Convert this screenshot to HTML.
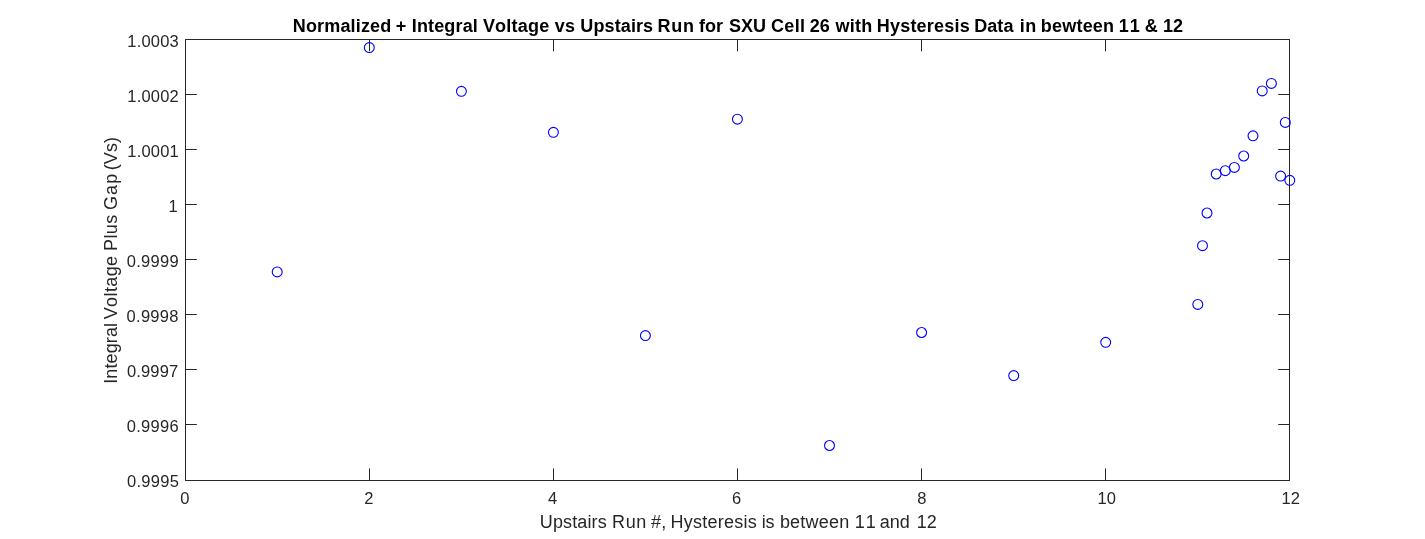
<!DOCTYPE html>
<html lang="en"><head><meta charset="utf-8"><title>Normalized + Integral Voltage vs Upstairs Run</title>
<style>
html,body{margin:0;padding:0;background:#fff;}
body{width:1425px;height:539px;overflow:hidden;}
svg{display:block;will-change:transform;}
text{font-family:"Liberation Sans",Arial,Helvetica,sans-serif;fill:#262626;font-kerning:none;}
.tk{font-size:16.5px;}
.lb{font-size:18px;}
.tt{font-size:18px;font-weight:bold;fill:#000;}
.ax{stroke:#262626;stroke-width:1;fill:none;shape-rendering:crispEdges;}
.tl{stroke:#262626;stroke-width:1;fill:none;}
.mk{stroke:#0000ff;stroke-width:1.1;fill:none;}
</style></head><body>
<svg width="1425" height="539" viewBox="0 0 1425 539">
<rect x="0" y="0" width="1425" height="539" fill="#ffffff"/>
<rect class="ax" x="185.5" y="39.5" width="1104.0" height="441.0"/>
<text class="tk" x="180.28" y="503.9">0</text>
<line class="tl" x1="369.5" y1="480.5" x2="369.5" y2="468.4"/>
<line class="tl" x1="369.5" y1="39.5" x2="369.5" y2="51.3"/>
<text class="tk" x="364.22" y="503.9">2</text>
<line class="tl" x1="553.5" y1="480.5" x2="553.5" y2="468.4"/>
<line class="tl" x1="553.5" y1="39.5" x2="553.5" y2="51.3"/>
<text class="tk" x="547.92" y="503.9">4</text>
<line class="tl" x1="737.5" y1="480.5" x2="737.5" y2="468.4"/>
<line class="tl" x1="737.5" y1="39.5" x2="737.5" y2="51.3"/>
<text class="tk" x="731.95" y="503.9">6</text>
<line class="tl" x1="921.5" y1="480.5" x2="921.5" y2="468.4"/>
<line class="tl" x1="921.5" y1="39.5" x2="921.5" y2="51.3"/>
<text class="tk" x="917.22" y="503.9">8</text>
<line class="tl" x1="1105.5" y1="480.5" x2="1105.5" y2="468.4"/>
<line class="tl" x1="1105.5" y1="39.5" x2="1105.5" y2="51.3"/>
<text class="tk" x="1097.58" y="503.9">10</text>
<text class="tk" x="1281.62" y="503.9">12</text>
<text class="tk" x="127.34" y="46.65" style="letter-spacing:0.2px">1.0003</text>
<line class="tl" x1="185.5" y1="94.5" x2="196.8" y2="94.5"/>
<line class="tl" x1="1289.5" y1="94.5" x2="1278.2" y2="94.5"/>
<text class="tk" x="127.31" y="101.68" style="letter-spacing:0.2px">1.0002</text>
<line class="tl" x1="185.5" y1="149.5" x2="196.8" y2="149.5"/>
<line class="tl" x1="1289.5" y1="149.5" x2="1278.2" y2="149.5"/>
<text class="tk" x="127.31" y="156.71" style="letter-spacing:0.2px">1.0001</text>
<line class="tl" x1="185.5" y1="204.5" x2="196.8" y2="204.5"/>
<line class="tl" x1="1289.5" y1="204.5" x2="1278.2" y2="204.5"/>
<text class="tk" x="168.50" y="211.74" style="letter-spacing:0.2px">1</text>
<line class="tl" x1="185.5" y1="259.5" x2="196.8" y2="259.5"/>
<line class="tl" x1="1289.5" y1="259.5" x2="1278.2" y2="259.5"/>
<text class="tk" x="126.75" y="266.77" style="letter-spacing:0.29px">0.9999</text>
<line class="tl" x1="185.5" y1="314.5" x2="196.8" y2="314.5"/>
<line class="tl" x1="1289.5" y1="314.5" x2="1278.2" y2="314.5"/>
<text class="tk" x="126.56" y="321.80" style="letter-spacing:0.29px">0.9998</text>
<line class="tl" x1="185.5" y1="369.5" x2="196.8" y2="369.5"/>
<line class="tl" x1="1289.5" y1="369.5" x2="1278.2" y2="369.5"/>
<text class="tk" x="126.94" y="376.83" style="letter-spacing:0.15px">0.9997</text>
<line class="tl" x1="185.5" y1="424.5" x2="196.8" y2="424.5"/>
<line class="tl" x1="1289.5" y1="424.5" x2="1278.2" y2="424.5"/>
<text class="tk" x="126.75" y="431.86" style="letter-spacing:0.29px">0.9996</text>
<text class="tk" x="126.94" y="486.89" style="letter-spacing:0.29px">0.9995</text>
<circle class="mk" cx="277.2" cy="271.9" r="4.95"/>
<circle class="mk" cx="369.3" cy="47.6" r="4.95"/>
<circle class="mk" cx="461.4" cy="91.3" r="4.95"/>
<circle class="mk" cx="553.4" cy="132.3" r="4.95"/>
<circle class="mk" cx="645.4" cy="335.6" r="4.95"/>
<circle class="mk" cx="737.4" cy="119.2" r="4.95"/>
<circle class="mk" cx="829.5" cy="445.5" r="4.95"/>
<circle class="mk" cx="921.6" cy="332.5" r="4.95"/>
<circle class="mk" cx="1013.7" cy="375.6" r="4.95"/>
<circle class="mk" cx="1105.7" cy="342.3" r="4.95"/>
<circle class="mk" cx="1197.8" cy="304.4" r="4.95"/>
<circle class="mk" cx="1202.5" cy="245.7" r="4.95"/>
<circle class="mk" cx="1207.0" cy="213.0" r="4.95"/>
<circle class="mk" cx="1216.2" cy="174.0" r="4.95"/>
<circle class="mk" cx="1225.3" cy="170.7" r="4.95"/>
<circle class="mk" cx="1234.4" cy="167.4" r="4.95"/>
<circle class="mk" cx="1243.7" cy="156.0" r="4.95"/>
<circle class="mk" cx="1253.0" cy="135.8" r="4.95"/>
<circle class="mk" cx="1262.2" cy="90.9" r="4.95"/>
<circle class="mk" cx="1271.4" cy="83.4" r="4.95"/>
<circle class="mk" cx="1280.6" cy="176.1" r="4.95"/>
<circle class="mk" cx="1285.3" cy="122.4" r="4.95"/>
<circle class="mk" cx="1289.8" cy="180.3" r="4.95"/>
<text class="tt" y="31.7"><tspan x="292.78" style="letter-spacing:0.163px">Normalized</tspan> <tspan x="395.70" style="letter-spacing:0.000px">+</tspan> <tspan x="411.77" style="letter-spacing:0.145px">Integral</tspan> <tspan x="482.88" style="letter-spacing:0.210px">Voltage</tspan> <tspan x="554.83" style="letter-spacing:0.171px">vs</tspan> <tspan x="580.31" style="letter-spacing:0.114px">Upstairs</tspan> <tspan x="657.48" style="letter-spacing:0.784px">Run</tspan> <tspan x="699.07" style="letter-spacing:-0.044px">for</tspan> <tspan x="728.91" style="letter-spacing:0.051px">SXU</tspan> <tspan x="770.94" style="letter-spacing:0.349px">Cell</tspan> <tspan x="809.77" style="letter-spacing:0.029px">26</tspan> <tspan x="835.61" style="letter-spacing:0.178px">with</tspan> <tspan x="876.78" style="letter-spacing:0.203px">Hysteresis</tspan> <tspan x="974.28" style="letter-spacing:0.043px">Data</tspan> <tspan x="1019.63" style="letter-spacing:0.512px">in</tspan> <tspan x="1040.86" style="letter-spacing:0.197px">bewteen</tspan> <tspan x="1118.84" style="letter-spacing:1.000px">11</tspan> <tspan x="1144.65" style="letter-spacing:0.000px">&amp;</tspan> <tspan x="1162.94" style="letter-spacing:0.167px">12</tspan></text>
<text class="lb" y="527.6"><tspan x="539.80" style="letter-spacing:0.133px">Upstairs</tspan> <tspan x="612.11" style="letter-spacing:0.535px">Run</tspan> <tspan x="651.11" style="letter-spacing:0.210px">#,</tspan> <tspan x="670.51" style="letter-spacing:0.241px">Hysteresis</tspan> <tspan x="761.68" style="letter-spacing:-0.051px">is</tspan> <tspan x="779.88" style="letter-spacing:0.232px">between</tspan> <tspan x="854.71" style="letter-spacing:1.000px">11</tspan> <tspan x="879.78" style="letter-spacing:0.000px">and</tspan> <tspan x="916.71" style="letter-spacing:0.000px">12</tspan></text>
<text class="lb" transform="translate(116.9,382.1) rotate(-90)" y="0"><tspan x="-1.66" style="letter-spacing:0.113px">Integral</tspan> <tspan x="62.81" style="letter-spacing:0.397px">Voltage</tspan> <tspan x="131.11" style="letter-spacing:0.373px">Plus</tspan> <tspan x="172.10" style="letter-spacing:1.100px">Gap</tspan> <tspan x="211.75" style="letter-spacing:0.140px">(Vs)</tspan></text>
</svg>
</body></html>
